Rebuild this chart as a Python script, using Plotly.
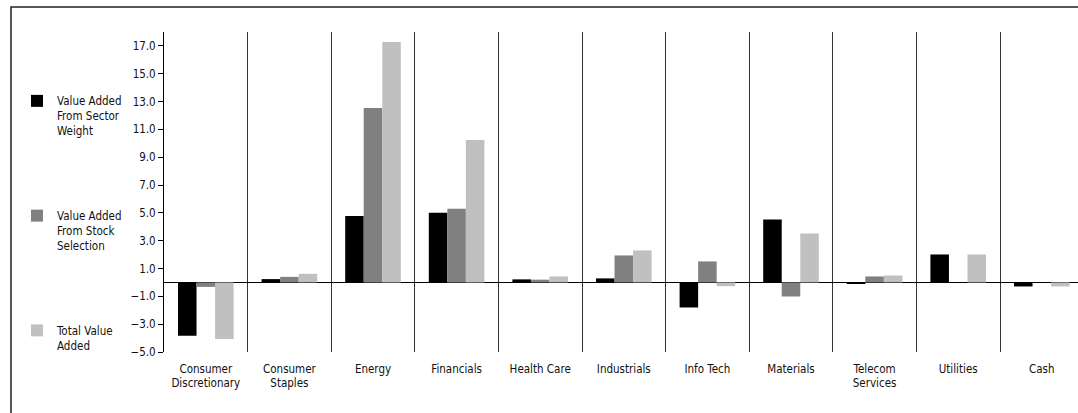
import plotly.graph_objects as go

categories = ["Consumer Discretionary", "Consumer Staples", "Energy", "Financials",
              "Health Care", "Industrials", "Info Tech", "Materials",
              "Telecom Services", "Utilities", "Cash"]
tick_labels = ["Consumer<br>Discretionary", "Consumer<br>Staples", "Energy", "Financials",
               "Health Care", "Industrials", "Info Tech", "Materials",
               "Telecom<br>Services", "Utilities", "Cash"]
sector_weight = [-3.84, 0.24, 4.77, 5.01, 0.22, 0.29, -1.80, 4.53, -0.05, 2.01, -0.29]
stock_selection = [-0.32, 0.40, 12.54, 5.30, 0.20, 1.94, 1.51, -1.01, 0.43, 0.0, 0.0]
total_value = [-4.06, 0.62, 17.29, 10.24, 0.43, 2.30, -0.27, 3.52, 0.50, 2.01, -0.29]
y_ticks = [-5, -3, -1, 1, 3, 5, 7, 9, 11, 13, 15, 17]

series_names = [
    " <br> <br>Value Added<br>From Sector<br>Weight",
    " <br> <br>Value Added<br>From Stock<br>Selection",
    " <br> <br>Total Value<br>Added<br> ",
]
series_values = [sector_weight, stock_selection, total_value]
series_colors = ["#000000", "#808080", "#C0C0C0"]

FONT = "DejaVu Sans Condensed, Liberation Sans Narrow, sans-serif"
FS = 11.5

fig = go.Figure()
for i, (name, vals, col) in enumerate(zip(series_names, series_values, series_colors)):
    fig.add_trace(go.Bar(x=categories, y=vals, name=name, marker_color=col,
                         marker_line_width=0, legendgroup=f"g{i}"))

W, H = 1078, 413
L, R, T, B = 164, 0, 32, 61
pw, ph = W - L - R, H - T - B

fig.update_layout(
    width=W, height=H,
    margin=dict(l=L, r=R, t=T, b=B, autoexpand=False),
    paper_bgcolor="white", plot_bgcolor="white",
    barmode="group", bargap=0.335, bargroupgap=0,
    font=dict(family=FONT, size=FS, color="#111111"),
    showlegend=True,
    legend=dict(xref="container", yref="container", x=17 / W, y=1 - 57 / H,
                xanchor="left", yanchor="top", traceorder="grouped",
                tracegroupgap=37, maxheight=400,
                font=dict(family=FONT, size=FS, color="#111111"),
                bgcolor="rgba(0,0,0,0)", itemclick=False),
    xaxis=dict(range=[-0.5, -0.5 + pw / 83.6], tickson="boundaries",
               showgrid=True, gridcolor="#333333", gridwidth=1,
               tickvals=categories, ticktext=tick_labels, tickangle=0,
               ticks="", showline=False, zeroline=False, automargin=False,
               ticklabelstandoff=8,
               tickfont=dict(family=FONT, size=FS, color="#111111")),
    yaxis=dict(range=[-5, 18], tickvals=y_ticks, tickformat=".1f",
               showgrid=False, showline=True, linecolor="#000000", linewidth=1,
               ticks="outside", ticklen=5, tickcolor="#000000", automargin=False,
               zeroline=True, zerolinecolor="#000000", zerolinewidth=1,
               tickfont=dict(family=FONT, size=FS, color="#111111")),
    shapes=[dict(type="rect", xref="paper", yref="paper",
                 x0=(11 - L) / pw, x1=1.05,
                 y0=(H - B - 430) / ph, y1=(H - B - 7) / ph,
                 line=dict(color="#222222", width=1.5), fillcolor="rgba(0,0,0,0)",
                 layer="below")],
)

fig.write_html("out.html")
